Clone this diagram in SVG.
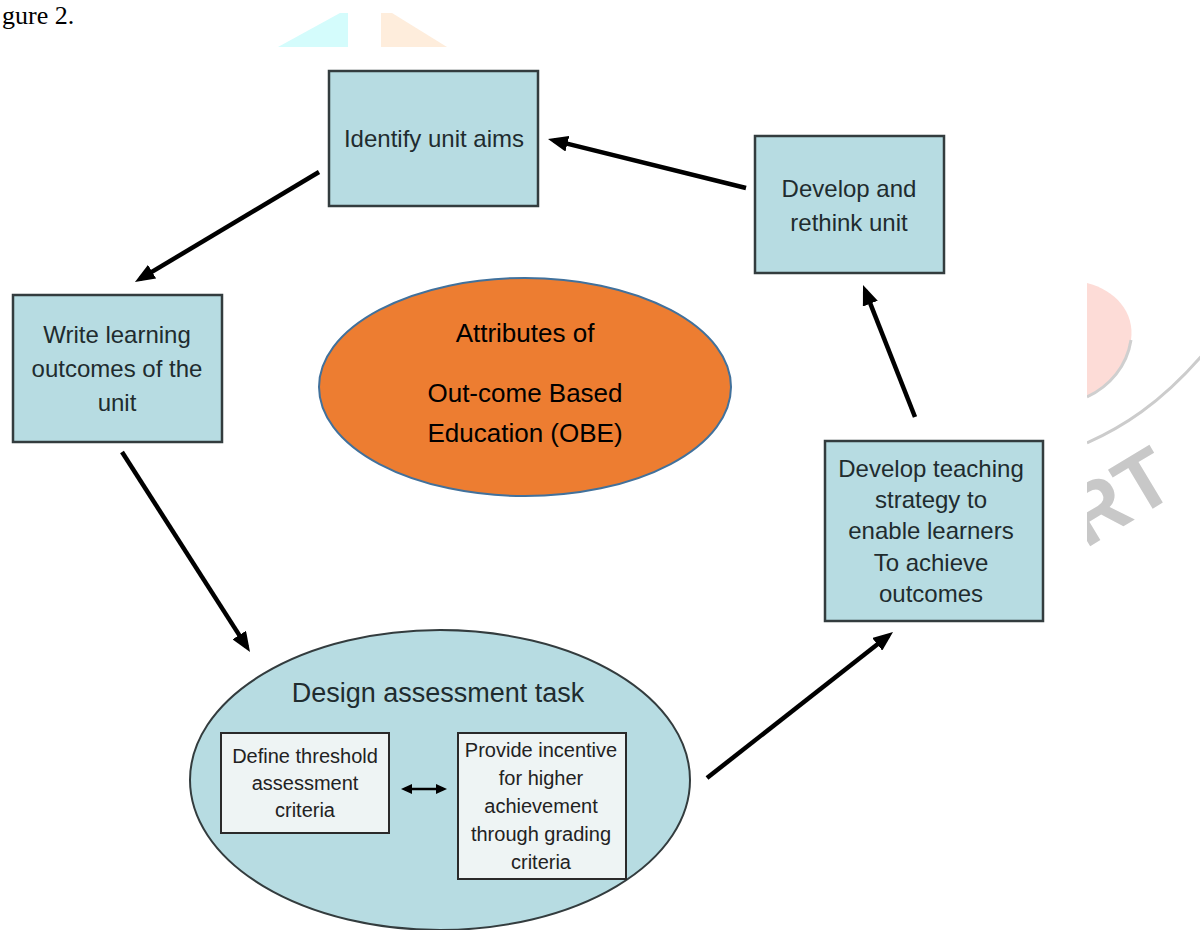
<svg xmlns="http://www.w3.org/2000/svg" width="1200" height="930" viewBox="0 0 1200 930">
<defs>
<style>
.box{fill:#b7dce2;stroke:#333c3e;stroke-width:2.5}
.inner{fill:#eef4f4;stroke:#2a2a2a;stroke-width:2}
.t{font-family:"Liberation Sans",Arial,sans-serif;fill:#1f2c2f;text-anchor:middle}
.bt{font-size:24px}
.it{font-size:20px;fill:#222}
.ot{font-family:"Liberation Sans",Arial,sans-serif;font-size:26px;fill:#000;text-anchor:middle}
.arr{stroke:#000;stroke-width:4.5;fill:none;marker-end:url(#ah)}
</style>
<marker id="ah" markerUnits="userSpaceOnUse" markerWidth="20" markerHeight="16" refX="14" refY="8" orient="auto">
<path d="M0,0 L20,8 L0,16 z" fill="#000"/>
</marker>
<marker id="sh" markerUnits="userSpaceOnUse" markerWidth="11" markerHeight="10" refX="7" refY="5" orient="auto-start-reverse">
<path d="M0,0 L11,5 L0,10 z" fill="#000"/>
</marker>
<clipPath id="wm">
<rect x="0" y="0" width="1200" height="47"/>
<rect x="1087" y="0" width="113" height="930"/>
</clipPath>
</defs>
<rect width="1200" height="930" fill="#fff"/>
<g id="watermark" clip-path="url(#wm)">
<polygon points="278,47 340,13 348,13 348,47" fill="#d4fcfc"/>
<polygon points="381,47 381,13 392,13 447,47" fill="#feeddc"/>
<path d="M1087,283 C1115,290 1135,312 1131,340 C1127,366 1110,386 1087,397 Z" fill="#fddcd7"/>
<path d="M1131,340 C1127,366 1110,386 1087,397" fill="none" stroke="#cfcfcf" stroke-width="3"/>
<path d="M1087,443 C1120,428 1160,405 1205,352" fill="none" stroke="#cccccc" stroke-width="3"/>
<text x="1085.5" y="549" transform="rotate(-31 1085.5 549)" font-family="Liberation Sans,Arial,sans-serif" font-weight="bold" font-size="82" fill="#c8c8c8">RT</text>
</g>
<text id="caption" x="2" y="24" font-family="Liberation Serif,serif" font-size="26" fill="#000">gure 2.</text>
<g id="connectors">
<line class="arr" x1="319" y1="172" x2="140.1" y2="278.9"/>
<line class="arr" x1="122" y1="452" x2="246.8" y2="646.9"/>
<line class="arr" x1="707" y1="778" x2="888.3" y2="635.7"/>
<line class="arr" x1="915" y1="417" x2="865.2" y2="290.6"/>
<line class="arr" x1="746" y1="188" x2="553.8" y2="140.4"/>
</g>
<g id="identify">
<rect class="box" x="329" y="71" width="209" height="135"/>
<text class="t bt" x="434" y="147">Identify unit aims</text>
</g>
<g id="rethink">
<rect class="box" x="755" y="136" width="189" height="137"/>
<text class="t bt" x="849" y="197">Develop and</text>
<text class="t bt" x="849" y="231">rethink unit</text>
</g>
<g id="write">
<rect class="box" x="13" y="295" width="209" height="147"/>
<text class="t bt" x="117" y="343">Write learning</text>
<text class="t bt" x="117" y="377">outcomes of the</text>
<text class="t bt" x="117" y="411">unit</text>
</g>
<g id="teaching">
<rect class="box" x="825" y="441" width="218" height="180"/>
<text class="t bt" x="931" y="477">Develop teaching</text>
<text class="t bt" x="931" y="508">strategy to</text>
<text class="t bt" x="931" y="539">enable learners</text>
<text class="t bt" x="931" y="571">To achieve</text>
<text class="t bt" x="931" y="602">outcomes</text>
</g>
<g id="obe">
<ellipse cx="525" cy="387" rx="206" ry="109" fill="#ed7d31" stroke="#41719c" stroke-width="2"/>
<text class="ot" x="525" y="342">Attributes of</text>
<text class="ot" x="525" y="402">Out-come Based</text>
<text class="ot" x="525" y="442">Education (OBE)</text>
</g>
<g id="design">
<ellipse cx="440" cy="780" rx="250" ry="150" fill="#b7dce2" stroke="#333c3e" stroke-width="2"/>
<text class="t" x="438" y="702" font-size="27">Design assessment task</text>
</g>
<g id="threshold">
<rect class="inner" x="221" y="733" width="168" height="100"/>
<text class="t it" x="305" y="763">Define threshold</text>
<text class="t it" x="305" y="790">assessment</text>
<text class="t it" x="305" y="817">criteria</text>
</g>
<g id="incentive">
<rect class="inner" x="458" y="733" width="168" height="146"/>
<text class="t it" x="541" y="757">Provide incentive</text>
<text class="t it" x="541" y="785">for higher</text>
<text class="t it" x="541" y="813">achievement</text>
<text class="t it" x="541" y="841">through grading</text>
<text class="t it" x="541" y="869">criteria</text>
</g>
<g id="link">
<line x1="405" y1="789" x2="443" y2="789" stroke="#000" stroke-width="2.5" marker-start="url(#sh)" marker-end="url(#sh)"/>
</g>
</svg>
